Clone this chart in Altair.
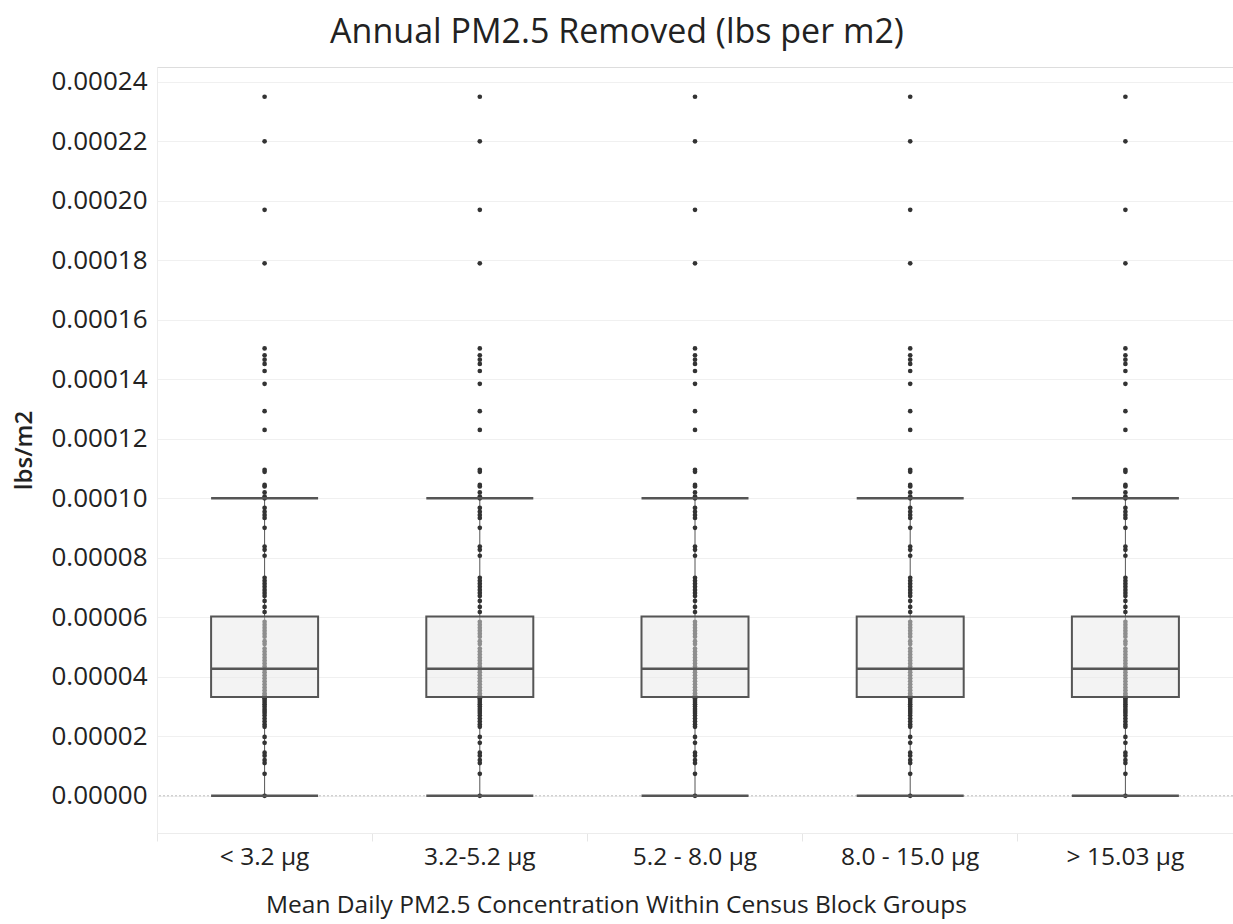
import altair as alt
import pandas as pd

categories = ["< 3.2 µg", "3.2-5.2 µg", "5.2 - 8.0 µg", "8.0 - 15.0 µg", "> 15.03 µg"]

# values in units of 1e-5 lbs/m2 (same distribution appears in every group)
values_e5 = [
    23.5, 22.0, 19.7, 17.9,
    15.04, 14.81, 14.66, 14.52, 14.28, 13.85, 12.93, 12.30,
    10.96, 10.89, 10.45, 10.40, 10.20, 10.06, 10.0,
    9.68, 9.55, 9.44, 9.34, 9.01, 8.38, 8.27, 8.07,
    7.33, 7.23, 7.13, 7.03, 6.92, 6.82, 6.72, 6.55, 6.35, 6.18,
    5.85, 5.75, 5.65, 5.55, 5.45, 5.35, 5.2, 5.1, 4.95, 4.85, 4.75, 4.65,
    4.55, 4.45, 4.35, 4.25, 4.15, 4.05, 3.95, 3.85, 3.75, 3.65, 3.55, 3.45, 3.38,
    3.28, 3.22, 3.15, 3.08, 3.0, 2.92, 2.85, 2.78, 2.7, 2.6, 2.5, 2.4, 2.32,
    1.98, 1.78, 1.45, 1.35, 1.2, 1.1, 0.74, 0.0,
]

# box statistics (lbs/m2)
q1 = [0.0000332] * 5
median = [0.0000427] * 5
q3 = [0.0000603] * 5
whisker_low = [0.0] * 5
whisker_high = [0.0001] * 5

points = pd.DataFrame(
    [{"cat": c, "v": v * 1e-5} for c in categories for v in values_e5]
)
stats = pd.DataFrame({
    "cat": categories, "q1": q1, "median": median, "q3": q3,
    "lo": whisker_low, "hi": whisker_high,
})

FONT = "Open Sans"
BOX_W = 107
LINE_C = "#555555"

x_enc = alt.X(
    "cat:N", sort=categories,
    title="Mean Daily PM2.5 Concentration Within Census Block Groups",
    axis=alt.Axis(
        labelAngle=0, labelFontSize=24.5, labelColor="#222", labelFont=FONT,
        titleFontSize=24.5, titleFont=FONT, titleFontWeight="normal", titleColor="#222",
        titleX=459, titlePadding=25,
        bandPosition=0, ticks=True, tickColor="#e6e6e6", tickSize=8,
        labelPadding=4, domainColor="#ececec", grid=False,
    ),
    scale=alt.Scale(paddingInner=0, paddingOuter=0),
)
y_scale = alt.Scale(domain=[-0.0000125, 0.000245], nice=False, zero=False)
y_axis = alt.Axis(
    values=[i * 0.00002 for i in range(13)], format=".5f",
    labelFontSize=26, labelColor="#222", labelFont=FONT, labelPadding=10,
    ticks=False, domainColor="#ececec", gridColor="#f0f0f0",
    title="lbs/m2", titleFontSize=24, titleFont=FONT, titleFontWeight=600,
    titleColor="#222", titlePadding=14,
)

base_pts = alt.Chart(points)
base_st = alt.Chart(stats)

zero = alt.Chart(pd.DataFrame({"z": [0.0]})).mark_rule(
    color="#bdbdbd", strokeDash=[2, 2], strokeWidth=1
).encode(y=alt.Y("z:Q", scale=y_scale, axis=y_axis))

whisk = base_st.mark_rule(color="#555", strokeWidth=1).encode(
    x=x_enc, y=alt.Y("lo:Q", scale=y_scale, axis=y_axis), y2="hi:Q"
)

pts = base_pts.mark_circle(size=22, color="#333", opacity=1).encode(
    x=x_enc, y=alt.Y("v:Q", scale=y_scale, axis=y_axis)
)

box = base_st.mark_bar(
    size=BOX_W, fill="#e8e8e8", fillOpacity=0.5, stroke=LINE_C, strokeWidth=2
).encode(x=x_enc, y=alt.Y("q1:Q", scale=y_scale, axis=y_axis), y2="q3:Q")

med = base_st.mark_tick(size=BOX_W, thickness=2.5, color=LINE_C, opacity=1).encode(
    x=x_enc, y=alt.Y("median:Q", scale=y_scale, axis=y_axis)
)
cap_hi = base_st.mark_tick(size=BOX_W, thickness=2.5, color=LINE_C, opacity=1).encode(
    x=x_enc, y=alt.Y("hi:Q", scale=y_scale, axis=y_axis)
)
cap_lo = base_st.mark_tick(size=BOX_W, thickness=2.5, color=LINE_C, opacity=1).encode(
    x=x_enc, y=alt.Y("lo:Q", scale=y_scale, axis=y_axis)
)

chart = alt.layer(zero, whisk, pts, box, med, cap_hi, cap_lo).properties(
    width=1076, height=766,
    title=alt.TitleParams(
        "Annual PM2.5 Removed (lbs per m2)", fontSize=34, font=FONT,
        fontWeight="normal", color="#222", anchor="middle", dx=-78, offset=17,
    ),
    autosize=alt.AutoSizeParams(type="none"),
    padding={"left": 157, "top": 67, "right": 0, "bottom": 91},
).configure_view(stroke=None).configure(background="white")

chart.save("out.html", embed_options={"renderer": "svg", "actions": False})
